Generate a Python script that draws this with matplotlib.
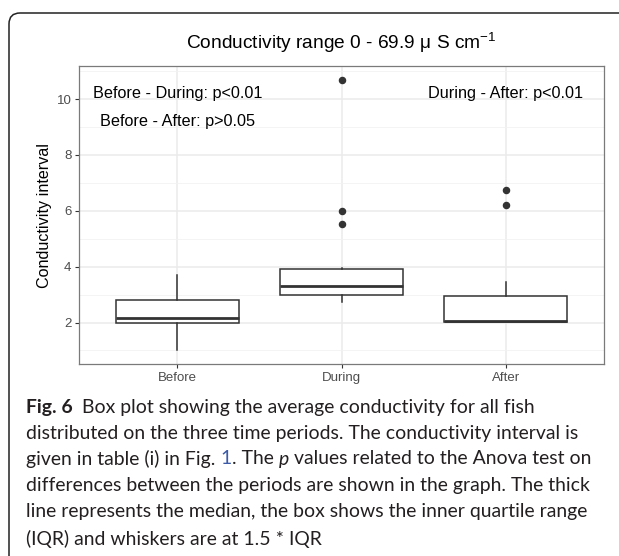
import matplotlib
matplotlib.use("Agg")
import matplotlib.pyplot as plt
from matplotlib.patches import FancyBboxPatch

# ---------------- data ----------------
periods = ["Before", "During", "After"]
q1 = [2.00, 3.00, 2.03]
medians = [2.17, 3.29, 2.05]
q3 = [2.79, 3.93, 2.94]
whisker_low = [1.00, 2.73, 2.03]
whisker_high = [3.70, 3.97, 3.44]
outliers = [[], [5.53, 6.00, 10.70], [6.21, 6.75]]
y_ticks = [2, 4, 6, 8, 10]
y_minor = [1, 3, 5, 7, 9, 11]
p_texts = ["Before - During: p<0.01", "Before - After: p>0.05", "During - After: p<0.01"]
p_x = [1, 1, 3]
p_y = [10.2, 9.2, 10.2]
title = "Conductivity range 0 - 69.9 \u03bc S cm$^{-1}$"
ylabel = "Conductivity interval"
caption_bold = "Fig. 6"
# each caption line as (text, style) segments: n=normal, i=italic, l=link
caption_lines = [
    [("Box plot showing the average conductivity for all fish", "n")],
    [("distributed on the three time periods. The conductivity interval is", "n")],
    [("given in table (i) in Fig. ", "n"), ("1", "l"), (". The ", "n"), ("p", "i"),
     (" values related to the Anova test on", "n")],
    [("differences between the periods are shown in the graph. The thick", "n")],
    [("line represents the median, the box shows the inner quartile range", "n")],
    [("(IQR) and whiskers are at 1.5 * IQR", "n")],
]

plt.rcParams["font.family"] = ["Liberation Sans", "DejaVu Sans"]
plt.rcParams["mathtext.fontset"] = "custom"
plt.rcParams["mathtext.rm"] = "Liberation Sans"

W, H, DPI = 619, 556, 100
fig = plt.figure(figsize=(W / DPI, H / DPI), dpi=DPI)

# panel in pixel coordinates
L, R, T, B = 79, 604, 66, 364
ax = fig.add_axes([L / W, (H - B) / H, (R - L) / W, (B - T) / H])

stats = []
for i in range(len(periods)):
    stats.append(dict(med=medians[i], q1=q1[i], q3=q3[i],
                      whislo=whisker_low[i], whishi=whisker_high[i],
                      fliers=outliers[i], label=periods[i]))
dark = "#333333"
ax.bxp(stats, positions=[1, 2, 3], widths=0.75, patch_artist=True,
       showcaps=False,
       boxprops=dict(facecolor="white", edgecolor=dark, linewidth=1.1),
       medianprops=dict(color=dark, linewidth=2.0),
       whiskerprops=dict(color=dark, linewidth=1.1),
       flierprops=dict(marker="o", markerfacecolor=dark, markeredgecolor=dark,
                       markersize=4.4, linestyle="none"),
       zorder=3)

ax.set_xlim(0.4, 3.6)
ax.set_ylim(0.515, 11.185)
ax.set_yticks(y_ticks)
ax.set_yticks(y_minor, minor=True)
ax.set_xticks([1, 2, 3])
ax.set_xticklabels(periods)
ax.grid(True, which="major", color="#EBEBEB", linewidth=1.1, zorder=0)
ax.grid(True, which="minor", axis="y", color="#F2F2F2", linewidth=0.6, zorder=0)
ax.set_axisbelow(True)
ax.tick_params(axis="both", which="major", colors=dark, labelcolor="#4D4D4D",
               labelsize=9.5, length=3, width=0.8, pad=2.5)
ax.tick_params(axis="y", which="minor", length=0)
for s in ax.spines.values():
    s.set_color("#7a7a7a")
    s.set_linewidth(0.9)

for t, x, y in zip(p_texts, p_x, p_y):
    ax.text(x, y, t, ha="center", va="center", fontsize=11.7, color="black")

fig.text((L + R) / 2 / W, 1 - 43 / H, title, ha="center", va="center",
         fontsize=13.8, color="black")
fig.text(44 / W, 1 - 215 / H, ylabel, rotation=90, ha="center", va="center",
         fontsize=11.6, color="black")

# outer frame
frame = FancyBboxPatch((9, -20), 700, (H - 13) + 20,
                       boxstyle="round,pad=0,rounding_size=11",
                       transform=None, facecolor="none", edgecolor="#222222",
                       linewidth=1.1)
fig.patches.append(frame)

# caption
cap_family = ["Lato", "DejaVu Sans"]
renderer = fig.canvas.get_renderer()
probe = fig.text(0, 0, caption_lines[4][0][0], fontsize=10, family=cap_family)
w10 = probe.get_window_extent(renderer).width
probe.remove()
cap_size = 10 * 563 / w10
cap_color = "#231F20"
link_color = "#3B5BA9"
x0 = 26
line_y = [407, 433, 459, 486, 512, 539]


def put(x, y, text, **kw):
    t = fig.text(x / W, 1 - y / H, text, fontsize=cap_size, family=cap_family,
                 ha="left", va="center", **kw)
    return x + t.get_window_extent(renderer).width


for i, (segs, yy) in enumerate(zip(caption_lines, line_y)):
    x = x0
    if i == 0:
        x = put(x, yy, caption_bold, weight="bold", color=cap_color) + 9
    for text, style in segs:
        if style == "i":
            x = put(x, yy, text, style="italic", color=cap_color)
        elif style == "l":
            x = put(x, yy, text, color=link_color)
        else:
            x = put(x, yy, text, color=cap_color)

fig.savefig("out.png", dpi=DPI)
